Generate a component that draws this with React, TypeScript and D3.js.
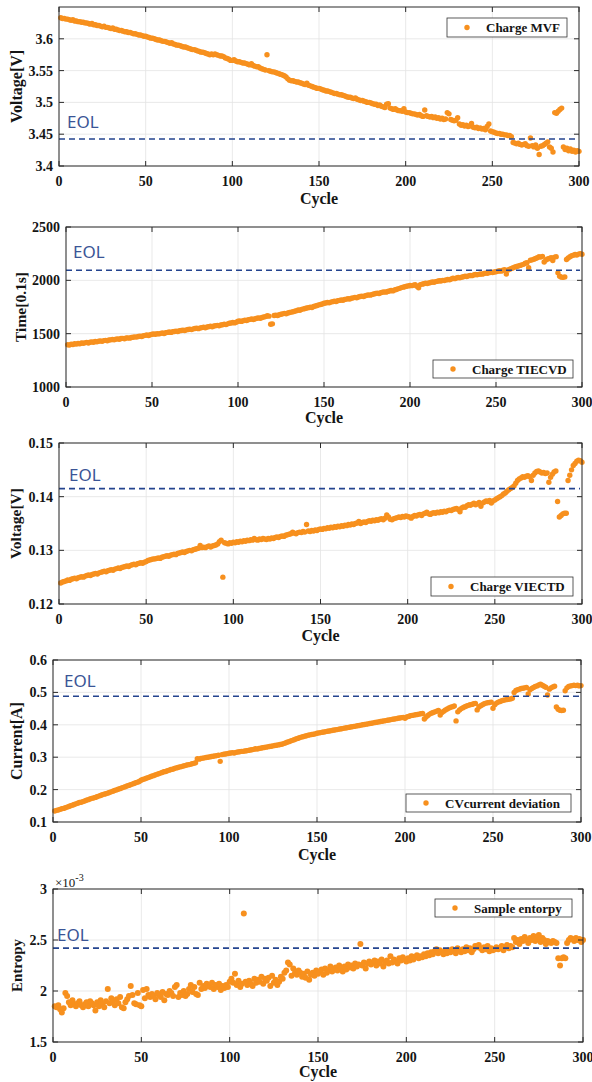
import React from "react";
import * as d3 from "d3";

// cycle numbers on the x axis
const cycles = d3.range(1, 301);
const cycleTicks = [0, 50, 100, 150, 200, 250, 300];

// Charge MVF [V]
const chargeMVF = [
  3.633, 3.632, 3.632, 3.631, 3.631, 3.63, 3.629, 3.63, 3.628, 3.628,
  3.627, 3.627, 3.626, 3.626, 3.625, 3.625, 3.624, 3.623, 3.624, 3.622,
  3.622, 3.621, 3.621, 3.62, 3.619, 3.62, 3.618, 3.618, 3.617, 3.616,
  3.617, 3.615, 3.615, 3.614, 3.613, 3.613, 3.612, 3.611, 3.611, 3.61,
  3.61, 3.609, 3.608, 3.608, 3.607, 3.606, 3.606, 3.605, 3.604, 3.604,
  3.603, 3.602, 3.601, 3.601, 3.6, 3.599, 3.598, 3.598, 3.597, 3.596,
  3.596, 3.595, 3.594, 3.593, 3.594, 3.592, 3.591, 3.59, 3.59, 3.589,
  3.588, 3.587, 3.587, 3.586, 3.585, 3.584, 3.583, 3.583, 3.582, 3.581,
  3.58, 3.579, 3.579, 3.578, 3.577, 3.576, 3.575, 3.576, 3.575, 3.576,
  3.575, 3.574, 3.573, 3.573, 3.572, 3.57, 3.569, 3.568, 3.566, 3.566,
  3.567, 3.565, 3.564, 3.564, 3.563, 3.562, 3.562, 3.561, 3.56, 3.559,
  3.561, 3.558, 3.557, 3.556, 3.556, 3.554, 3.553, 3.552, 3.551, 3.575,
  3.55, 3.549, 3.548, 3.548, 3.547, 3.546, 3.545, 3.544, 3.543, 3.542,
  3.54, 3.537, 3.535, 3.534, 3.534, 3.533, 3.532, 3.532, 3.531, 3.53,
  3.529, 3.528, 3.53, 3.527, 3.526, 3.525, 3.524, 3.523, 3.522, 3.522,
  3.521, 3.52, 3.519, 3.518, 3.518, 3.517, 3.516, 3.515, 3.514, 3.514,
  3.513, 3.512, 3.512, 3.511, 3.51, 3.509, 3.508, 3.508, 3.507, 3.506,
  3.507, 3.505, 3.504, 3.503, 3.503, 3.502, 3.501, 3.5, 3.5, 3.499,
  3.498, 3.497, 3.497, 3.495, 3.496, 3.494, 3.493, 3.492, 3.497, 3.498,
  3.491, 3.49, 3.489, 3.49, 3.488, 3.487, 3.487, 3.486, 3.49, 3.485,
  3.484, 3.484, 3.483, 3.482, 3.482, 3.481, 3.48, 3.481, 3.479, 3.478,
  3.488, 3.479, 3.478, 3.477, 3.478, 3.476, 3.477, 3.475, 3.476, 3.474,
  3.475, 3.473, 3.474, 3.484, 3.482, 3.473, 3.472, 3.471, 3.472, 3.476,
  3.466, 3.464, 3.465, 3.463, 3.464, 3.462, 3.463, 3.467, 3.461, 3.46,
  3.461, 3.459, 3.46, 3.458, 3.459, 3.457, 3.462, 3.466, 3.455, 3.454,
  3.453, 3.452, 3.451, 3.451, 3.45, 3.45, 3.449, 3.449, 3.448, 3.448,
  3.446, 3.437, 3.436, 3.435, 3.436, 3.434, 3.433, 3.434, 3.435, 3.432,
  3.431, 3.444, 3.432, 3.43, 3.433, 3.428, 3.418, 3.431, 3.432, 3.434,
  3.436, 3.438, 3.43, 3.428, 3.422, 3.484, 3.483, 3.486, 3.489, 3.491,
  3.43, 3.426, 3.428, 3.424, 3.427, 3.423, 3.425, 3.422, 3.424, 3.423,
];

// Charge TIECVD [0.1 s]
const chargeTIECVD = [
  1396, 1393, 1401, 1399, 1405, 1402, 1408, 1406, 1412, 1410,
  1414, 1418, 1413, 1420, 1423, 1419, 1426, 1424, 1430, 1432,
  1428, 1435, 1437, 1433, 1440, 1442, 1446, 1443, 1449, 1451,
  1448, 1454, 1456, 1453, 1459, 1461, 1458, 1464, 1467, 1470,
  1468, 1473, 1476, 1474, 1480, 1484, 1487, 1483, 1490, 1494,
  1497, 1495, 1500, 1498, 1503, 1506, 1502, 1509, 1512, 1515,
  1512, 1518, 1521, 1524, 1520, 1527, 1530, 1533, 1529, 1536,
  1539, 1542, 1538, 1545, 1548, 1551, 1547, 1554, 1557, 1560,
  1556, 1563, 1566, 1569, 1565, 1572, 1575, 1578, 1574, 1581,
  1584, 1588, 1585, 1592, 1597, 1600, 1604, 1601, 1608, 1616,
  1619, 1615, 1622, 1626, 1623, 1630, 1634, 1637, 1633, 1640,
  1644, 1648, 1645, 1652, 1656, 1660, 1668, 1664, 1588, 1592,
  1670, 1674, 1671, 1678, 1682, 1686, 1690, 1687, 1694, 1698,
  1702, 1706, 1710, 1716, 1722, 1719, 1728, 1732, 1736, 1740,
  1744, 1748, 1745, 1755, 1760, 1764, 1770, 1774, 1778, 1785,
  1788, 1792, 1789, 1796, 1800, 1804, 1801, 1808, 1812, 1816,
  1813, 1820, 1824, 1828, 1825, 1832, 1836, 1840, 1837, 1844,
  1848, 1852, 1849, 1856, 1860, 1864, 1861, 1868, 1872, 1876,
  1880, 1877, 1884, 1888, 1892, 1889, 1896, 1900, 1904, 1901,
  1910, 1914, 1920, 1925, 1932, 1936, 1940, 1944, 1948, 1952,
  1950, 1955, 1958, 1945, 1930, 1960, 1964, 1968, 1972, 1970,
  1975, 1980, 1984, 1982, 1988, 1992, 1996, 1994, 2000, 1998,
  2004, 2008, 2006, 2012, 2019, 2016, 2022, 2026, 2024, 2030,
  2034, 2038, 2036, 2042, 2046, 2044, 2050, 2054, 2052, 2056,
  2060, 2058, 2064, 2068, 2066, 2072, 2076, 2074, 2078, 2081,
  2085, 2090, 2086, 2094, 2100, 2060, 2098, 2105, 2112, 2118,
  2125, 2130, 2135, 2140, 2145, 2150, 2160, 2165, 2118, 2188,
  2192, 2198, 2205, 2212, 2222, 2218, 2225, 2172, 2190, 2200,
  2205, 2212, 2185, 2218, 2222, 2070, 2038, 2030, 2028, 2032,
  2195, 2210, 2222, 2230, 2236, 2242, 2238, 2246, 2250, 2244,
];

// Charge VIECTD [V]
const chargeVIECTD = [
  0.1239, 0.1241, 0.1242, 0.1243, 0.1245, 0.1244, 0.1246, 0.1247, 0.1248, 0.1247,
  0.1249, 0.125, 0.1251, 0.125, 0.1252, 0.1253, 0.1254, 0.1253, 0.1255, 0.1256,
  0.1257, 0.1256, 0.1258, 0.1259, 0.126, 0.1261, 0.126, 0.1262, 0.1263, 0.1264,
  0.1263, 0.1265, 0.1266, 0.1267, 0.1266, 0.1268, 0.1269, 0.127, 0.1271, 0.127,
  0.1272, 0.1273, 0.1274, 0.1273, 0.1275, 0.1276, 0.1277, 0.1276, 0.1278, 0.1279,
  0.1281, 0.1282, 0.1283, 0.1284, 0.1284, 0.1285, 0.1286, 0.1285, 0.1287, 0.1288,
  0.1289, 0.129, 0.1289, 0.1291, 0.1292, 0.1293, 0.1292, 0.1294, 0.1295, 0.1296,
  0.1297, 0.1296, 0.1298, 0.1299, 0.13, 0.1299, 0.1301, 0.1302, 0.1303, 0.1304,
  0.1309, 0.1305, 0.1306, 0.1305, 0.1307, 0.1308, 0.1306, 0.1308, 0.1309, 0.131,
  0.1312, 0.1316, 0.1319, 0.125, 0.1314, 0.1313, 0.1312, 0.1314, 0.1313, 0.1315,
  0.1314, 0.1316, 0.1315, 0.1317, 0.1316, 0.1318, 0.1317, 0.1319, 0.1318, 0.132,
  0.1319, 0.1322, 0.132, 0.1319, 0.1321, 0.132, 0.1322, 0.1321, 0.132, 0.1322,
  0.1321, 0.1323, 0.1322, 0.1324, 0.1325, 0.1324, 0.1326, 0.1327, 0.1326, 0.1328,
  0.1329, 0.133, 0.1331, 0.1334, 0.1332, 0.1331, 0.1333, 0.1334, 0.1333, 0.1335,
  0.1334, 0.1348, 0.1336, 0.1335, 0.1337, 0.1336, 0.1338, 0.1337, 0.1339, 0.134,
  0.1339, 0.1341, 0.134, 0.1342, 0.1341, 0.1343, 0.1342, 0.1344, 0.1343, 0.1345,
  0.1344, 0.1346, 0.1345, 0.1347, 0.1346, 0.1348, 0.1347, 0.1349, 0.1348, 0.135,
  0.1351, 0.1354, 0.135, 0.1352, 0.1353, 0.1352, 0.1354, 0.1355, 0.1354, 0.1356,
  0.1355, 0.1357, 0.1356, 0.1358, 0.1359, 0.1357, 0.136, 0.1366, 0.1362, 0.1358,
  0.1357, 0.1359, 0.136, 0.1361, 0.1362, 0.1361, 0.1363, 0.1362, 0.1364, 0.1363,
  0.1362, 0.136, 0.1363, 0.1365, 0.1364, 0.1366, 0.1367, 0.1365, 0.1368, 0.1369,
  0.1371, 0.1368, 0.1367, 0.1369, 0.137, 0.1369, 0.1371, 0.137, 0.1372, 0.1371,
  0.1373, 0.1372, 0.1374, 0.1375, 0.1374, 0.1376, 0.1377, 0.1378, 0.1376, 0.1372,
  0.1379, 0.1381, 0.138, 0.1383, 0.1385, 0.1384, 0.1386, 0.1388, 0.1385, 0.1387,
  0.1389, 0.1382, 0.1388, 0.139, 0.1392, 0.1391, 0.1393, 0.1388, 0.1392, 0.1394,
  0.1396, 0.1398, 0.14, 0.1402, 0.1405, 0.1407, 0.141, 0.1413, 0.1415, 0.1417,
  0.142, 0.1425, 0.143, 0.1433, 0.1435, 0.1437, 0.1436, 0.1438, 0.1439, 0.1437,
  0.143, 0.144, 0.1444, 0.1447, 0.1448, 0.1446, 0.1444, 0.1445, 0.1443, 0.1444,
  0.1427, 0.1436, 0.1442, 0.1446, 0.1448, 0.1391, 0.1362, 0.1365, 0.1368, 0.1369,
  0.1369, 0.143, 0.144, 0.145, 0.1458, 0.1462, 0.1466, 0.1468, 0.1467, 0.1464,
];

// CV current deviation [A]
const cvCurrentDeviation = [
  0.134, 0.136, 0.137, 0.139, 0.141, 0.142, 0.144, 0.146, 0.148, 0.15,
  0.152, 0.154, 0.156, 0.158, 0.16, 0.161, 0.163, 0.165, 0.167, 0.169,
  0.171, 0.173, 0.174, 0.176, 0.178, 0.18, 0.182, 0.184, 0.186, 0.187,
  0.189, 0.191, 0.193, 0.195, 0.197, 0.199, 0.201, 0.203, 0.205, 0.207,
  0.209, 0.211, 0.213, 0.215, 0.217, 0.219, 0.221, 0.223, 0.225, 0.229,
  0.231, 0.233, 0.235, 0.237, 0.239, 0.241, 0.243, 0.245, 0.247, 0.249,
  0.251, 0.253, 0.255, 0.256, 0.258, 0.26, 0.262, 0.263, 0.265, 0.267,
  0.268, 0.27, 0.271, 0.273, 0.274, 0.276, 0.277, 0.278, 0.28, 0.281,
  0.283, 0.295, 0.294, 0.296, 0.297, 0.298, 0.299, 0.3, 0.301, 0.302,
  0.303, 0.304, 0.305, 0.306, 0.287, 0.308, 0.309, 0.31, 0.311, 0.312,
  0.313, 0.314, 0.313, 0.315, 0.316, 0.317, 0.318, 0.318, 0.319, 0.32,
  0.321, 0.322, 0.323, 0.324, 0.326, 0.325, 0.327, 0.328, 0.329, 0.33,
  0.331, 0.332, 0.333, 0.334, 0.335, 0.336, 0.337, 0.338, 0.339, 0.34,
  0.342, 0.344, 0.346, 0.348, 0.35, 0.352, 0.354, 0.356, 0.358, 0.36,
  0.362, 0.363, 0.365, 0.366, 0.368, 0.369, 0.37, 0.371, 0.372, 0.374,
  0.375, 0.376, 0.377, 0.378, 0.379, 0.38, 0.381, 0.382, 0.383, 0.384,
  0.385, 0.386, 0.387, 0.388, 0.389, 0.39, 0.391, 0.392, 0.393, 0.394,
  0.395, 0.396, 0.397, 0.398, 0.399, 0.4, 0.401, 0.402, 0.403, 0.404,
  0.405, 0.406, 0.407, 0.408, 0.409, 0.41, 0.411, 0.412, 0.413, 0.414,
  0.415, 0.416, 0.417, 0.418, 0.419, 0.42, 0.421, 0.422, 0.423, 0.42,
  0.424, 0.426, 0.428, 0.429, 0.43, 0.431, 0.432, 0.433, 0.434, 0.435,
  0.418, 0.424, 0.429, 0.433, 0.436, 0.438, 0.44, 0.442, 0.444, 0.43,
  0.438, 0.442, 0.446, 0.449, 0.452, 0.454, 0.456, 0.458, 0.412, 0.44,
  0.446, 0.45, 0.453, 0.456, 0.458, 0.46, 0.462, 0.463, 0.465, 0.466,
  0.446, 0.455, 0.459, 0.462, 0.465, 0.467, 0.468, 0.469, 0.47, 0.451,
  0.462, 0.467, 0.47, 0.472, 0.474, 0.476, 0.477, 0.478, 0.479, 0.48,
  0.482, 0.5, 0.506, 0.508, 0.51, 0.512, 0.513, 0.514, 0.515, 0.495,
  0.508, 0.512, 0.515, 0.518, 0.52, 0.523, 0.525, 0.522, 0.519, 0.516,
  0.492, 0.51, 0.514, 0.517, 0.519, 0.455, 0.448, 0.445, 0.444, 0.445,
  0.505, 0.514, 0.518, 0.52, 0.521, 0.522, 0.521, 0.522, 0.52, 0.521,
];

// Sample entropy (x 10^-3)
const sampleEntropy = [
  1.85, 1.84, 1.86, 1.82, 1.79, 1.83, 1.98, 1.95, 1.89, 1.86,
  1.91, 1.87, 1.85, 1.88, 1.9, 1.86, 1.84, 1.87, 1.89, 1.85,
  1.9, 1.88, 1.86, 1.81, 1.89, 1.85, 1.91, 1.87, 1.84, 1.9,
  2.02, 1.88, 1.93, 1.9, 1.86, 1.92, 1.88, 1.94, 1.84, 1.83,
  1.89, 1.92, 1.95, 2.05, 1.96, 1.88, 1.87, 1.98, 1.86, 1.85,
  2.01, 1.93, 2.02, 1.96, 1.94, 1.97, 1.95, 1.92, 1.98, 1.96,
  1.94, 1.99, 1.91, 1.97, 1.96, 2.0, 1.98, 1.95, 2.04, 2.06,
  1.94, 1.98, 1.96, 2.0, 1.95, 1.97, 2.02, 2.06, 1.99, 2.04,
  1.97, 1.96, 2.08, 2.02, 2.05, 2.03, 2.07, 2.05, 2.04, 2.08,
  2.02, 2.06, 2.04, 2.07, 2.01, 2.05, 2.03, 2.06, 2.04, 2.09,
  2.12, 2.08, 2.17, 2.06, 2.1, 2.04, 2.07, 2.76, 2.09, 2.06,
  2.1, 2.07, 2.05, 2.12, 2.08, 2.11, 2.09, 2.14, 2.07, 2.12,
  2.1, 2.13, 2.05, 2.15, 2.08, 2.11, 2.06, 2.09, 2.14, 2.12,
  2.18, 2.2, 2.28, 2.26, 2.15, 2.22, 2.18, 2.16, 2.2, 2.18,
  2.14, 2.17, 2.13, 2.19, 2.11, 2.16, 2.18, 2.15, 2.2, 2.17,
  2.19, 2.21, 2.16, 2.22, 2.18, 2.2, 2.24, 2.19, 2.21, 2.23,
  2.2, 2.25, 2.22, 2.19, 2.24, 2.21, 2.26, 2.23, 2.25, 2.22,
  2.27, 2.24, 2.26, 2.46, 2.25, 2.28, 2.22, 2.27, 2.29, 2.26,
  2.28, 2.3, 2.25, 2.29, 2.27, 2.31, 2.24, 2.28, 2.3, 2.27,
  2.34, 2.28, 2.31, 2.29, 2.27, 2.32, 2.3, 2.33, 2.31, 2.29,
  2.32, 2.3, 2.34, 2.31, 2.33, 2.35, 2.32, 2.34, 2.33, 2.36,
  2.34, 2.37, 2.35, 2.38, 2.36, 2.39, 2.41, 2.37, 2.4, 2.38,
  2.36, 2.39, 2.37, 2.4, 2.38, 2.41, 2.39, 2.37, 2.42, 2.4,
  2.38, 2.41, 2.39, 2.43, 2.4, 2.42, 2.38, 2.41, 2.44, 2.43,
  2.45, 2.42, 2.4, 2.43, 2.41, 2.44, 2.39, 2.42, 2.4, 2.41,
  2.43, 2.41, 2.42, 2.44, 2.4, 2.43, 2.45, 2.42, 2.44, 2.43,
  2.52, 2.48, 2.5, 2.46, 2.51, 2.49, 2.53, 2.5, 2.47, 2.52,
  2.5, 2.54, 2.49, 2.51, 2.55, 2.48, 2.52, 2.5, 2.46, 2.49,
  2.48, 2.47, 2.49, 2.48, 2.47, 2.32, 2.25, 2.32, 2.33, 2.32,
  2.47, 2.5, 2.52, 2.51, 2.49, 2.52, 2.5, 2.51, 2.48, 2.5,
];

// EOL thresholds
const eolValues = [3.4425, 2094, 0.1415, 0.488, 2.42];

const ORANGE = "#f7901e";
const EOL_BLUE = "#24448f";
const EOL_TEXT = "#3a5596";
const AXIS = "#2b2b2b";
const GRID = "#e3e3e3";
const INK = "#141414";
const SERIF = "'Liberation Serif', 'Times New Roman', serif";
const SANS = "'Noto Sans', 'Open Sans', sans-serif";

const panels = [
  {
    values: chargeMVF, domain: [3.4, 3.65], ticks: [3.4, 3.45, 3.5, 3.55, 3.6],
    eol: eolValues[0], ylabel: "Voltage[V]", ylabelSize: 16, ylabelX: 16, legend: "Charge MVF",
    box: { l: 59, r: 579, t: 7, b: 166 }, lg: { x: 447, y: 18, w: 120, h: 19 },
    eolText: { dx: 8, dy: -11 }, cycleDy: 38, r: 2.7,
  },
  {
    values: chargeTIECVD, domain: [1000, 2500], ticks: [1000, 1500, 2000, 2500],
    eol: eolValues[1], ylabel: "Time[0.1s]", ylabelSize: 15.5, ylabelX: 20, legend: "Charge TIECVD",
    box: { l: 66, r: 582, t: 227, b: 387 }, lg: { x: 433, y: 360, w: 140, h: 18 },
    eolText: { dx: 7, dy: -12 }, cycleDy: 36, r: 2.7,
  },
  {
    values: chargeVIECTD, domain: [0.12, 0.15], ticks: [0.12, 0.13, 0.14, 0.15],
    eol: eolValues[2], ylabel: "Voltage[V]", ylabelSize: 15.5, ylabelX: 15, legend: "Charge VIECTD",
    box: { l: 59, r: 582, t: 443, b: 604 }, lg: { x: 431, y: 577, w: 142, h: 19 },
    eolText: { dx: 10, dy: -8 }, cycleDy: 37, r: 2.7,
  },
  {
    values: cvCurrentDeviation, domain: [0.1, 0.6], ticks: [0.1, 0.2, 0.3, 0.4, 0.5, 0.6],
    eol: eolValues[3], ylabel: "Current[A]", ylabelSize: 16, ylabelX: 16, legend: "CVcurrent deviation",
    box: { l: 53, r: 581, t: 660, b: 822 }, lg: { x: 406, y: 794, w: 165, h: 18 },
    eolText: { dx: 11, dy: -9 }, cycleDy: 38, r: 2.7,
  },
  {
    values: sampleEntropy, domain: [1.5, 3], ticks: [1.5, 2, 2.5, 3],
    eol: eolValues[4], ylabel: "Entropy", ylabelSize: 15, ylabelX: 17, legend: "Sample entorpy",
    box: { l: 53, r: 583, t: 889, b: 1042 }, lg: { x: 435, y: 899, w: 137, h: 18 },
    eolText: { dx: 4, dy: -7 }, cycleDy: 35, r: 3, exponent: true,
  },
];

const fmt = (v: number) => String(+v.toFixed(4));

const Panel = ({ p }: { p: any }) => {
  const { box, lg } = p;
  const x = d3.scaleLinear().domain([0, 300]).range([box.l, box.r]);
  const y = d3.scaleLinear().domain(p.domain).range([box.b, box.t]);
  const tk = 5;
  const yEol = y(p.eol);
  return (
    <g>
      <rect x={box.l} y={box.t} width={box.r - box.l} height={box.b - box.t} fill="#fff" />
      {/* grid */}
      {cycleTicks.map((t) => (
        <line key={"gx" + t} x1={x(t)} x2={x(t)} y1={box.t} y2={box.b} stroke={GRID} strokeWidth={0.8} />
      ))}
      {p.ticks.map((t: number) => (
        <line key={"gy" + t} x1={box.l} x2={box.r} y1={y(t)} y2={y(t)} stroke={GRID} strokeWidth={0.8} />
      ))}
      {/* points */}
      {p.values.map((v: number, i: number) => (
        <circle key={i} cx={x(cycles[i])} cy={y(v)} r={p.r} fill={ORANGE} />
      ))}
      {/* EOL */}
      <line x1={box.l} x2={box.r - 2} y1={yEol} y2={yEol} stroke={EOL_BLUE} strokeWidth={1.6} strokeDasharray="6,4" />
      <text x={box.l + p.eolText.dx} y={yEol + p.eolText.dy} fontFamily={SANS} fontSize={17} fill={EOL_TEXT}>
        EOL
      </text>
      {/* frame + ticks */}
      <rect x={box.l} y={box.t} width={box.r - box.l} height={box.b - box.t} fill="none" stroke={AXIS} strokeWidth={1} />
      {cycleTicks.map((t) => (
        <g key={"tx" + t}>
          <line x1={x(t)} x2={x(t)} y1={box.b} y2={box.b - tk} stroke={AXIS} />
          <line x1={x(t)} x2={x(t)} y1={box.t} y2={box.t + tk} stroke={AXIS} />
          <text x={x(t)} y={box.b + 20} textAnchor="middle" fontFamily={SERIF} fontWeight="bold" fontSize={14} fill={INK}>
            {t}
          </text>
        </g>
      ))}
      {p.ticks.map((t: number) => (
        <g key={"ty" + t}>
          <line x1={box.l} x2={box.l + tk} y1={y(t)} y2={y(t)} stroke={AXIS} />
          <line x1={box.r} x2={box.r - tk} y1={y(t)} y2={y(t)} stroke={AXIS} />
          <text x={box.l - 6} y={y(t)} dy="0.35em" textAnchor="end" fontFamily={SERIF} fontWeight="bold" fontSize={14} fill={INK}>
            {fmt(t)}
          </text>
        </g>
      ))}
      {/* axis labels */}
      <text x={(box.l + box.r) / 2} y={box.b + p.cycleDy} textAnchor="middle" fontFamily={SERIF} fontWeight="bold" fontSize={16} fill={INK}>
        Cycle
      </text>
      <text
        transform={`translate(${p.ylabelX},${(box.t + box.b) / 2}) rotate(-90)`}
        textAnchor="middle"
        dominantBaseline="central"
        fontFamily={SERIF}
        fontWeight="bold"
        fontSize={p.ylabelSize}
        fill={INK}
      >
        {p.ylabel}
      </text>
      {p.exponent && (
        <text x={box.l + 2} y={box.t - 2} fontFamily={SERIF} fontSize={13} fill={INK}>
          ×10<tspan dy={-6} fontSize={10}>-3</tspan>
        </text>
      )}
      {/* legend */}
      <rect x={lg.x} y={lg.y} width={lg.w} height={lg.h} fill="#fff" stroke="#333" strokeWidth={0.8} />
      <circle cx={lg.x + 20} cy={lg.y + lg.h / 2} r={2.7} fill={ORANGE} />
      <text x={lg.x + 39} y={lg.y + lg.h / 2} dy="0.35em" fontFamily={SERIF} fontWeight="bold" fontSize={13} fill={INK}>
        {p.legend}
      </text>
    </g>
  );
};

export default function App() {
  return (
    <svg width={592} height={1082} style={{ position: "absolute", left: 0, top: 0, background: "#fff" }}>
      <rect width={592} height={1082} fill="#fff" />
      {panels.map((p, i) => (
        <Panel key={i} p={p} />
      ))}
    </svg>
  );
}
